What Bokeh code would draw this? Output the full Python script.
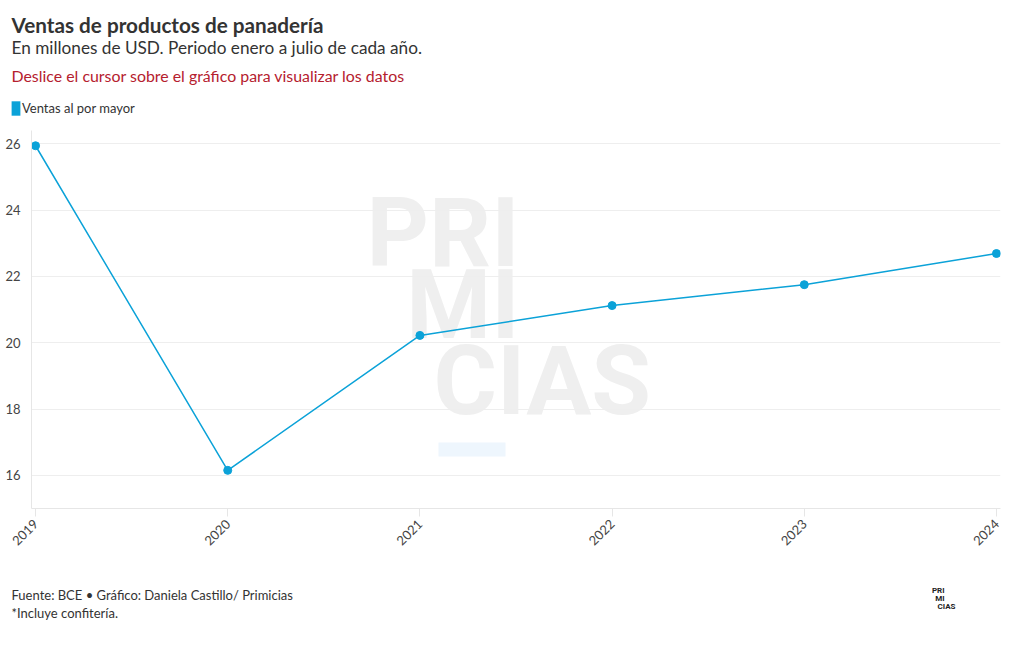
from bokeh.plotting import figure
from bokeh.models import Label, FixedTicker, Range1d, Legend, LegendItem, BoxAnnotation
from bokeh.layouts import column
from bokeh.embed import file_html
from bokeh.resources import INLINE

years = [2019, 2020, 2021, 2022, 2023, 2024]
ventas = [25.94, 16.15, 20.22, 21.12, 21.75, 22.69]
y_ticks = [16, 18, 20, 22, 24, 26]
series_name = "Ventas al por mayor"
title = "Ventas de productos de panadería"
subtitle = "En millones de USD. Periodo enero a julio de cada año."
note = "Deslice el cursor sobre el gráfico para visualizar los datos"
footer1 = "Fuente: BCE • Gráfico: Daniela Castillo/ Primicias"
footer2 = "*Incluye confitería."
logo = ["PRI", "MI", "CIAS"]

FONT = "Lato"
BLUE = "#0ba2d8"
W = 1020


def blank(height, top, bottom):
    f = figure(width=W, height=height, output_backend="svg", toolbar_location=None,
               x_range=Range1d(0, W), y_range=Range1d(bottom, top),
               x_axis_type=None, y_axis_type=None, min_border=0, frame_align=False)
    f.outline_line_color = None
    f.xgrid.grid_line_color = None
    f.ygrid.grid_line_color = None
    f.background_fill_color = "white"
    f.border_fill_color = "white"
    return f


def lab(fig, x, y, text, units="data", **kw):
    d = dict(x=x, y=y, x_units=units, y_units=units, text=text, text_font=FONT,
             text_baseline="middle")
    d.update(kw)
    fig.add_layout(Label(**d))


# ---- header ----
head = blank(120, 0, 120)
lab(head, 11, 24, title, text_font_size="20.7px", text_font_style="bold", text_color="#333333")
lab(head, 11, 47, subtitle, text_font_size="17.2px", text_color="#333333")
lab(head, 11, 75, note, text_font_size="15.9px", text_color="#b5202e")
swatch = head.rect(x=[0], y=[0], width=0, height=0, fill_color=BLUE, line_color=None,
                   border_radius=3)
legend = Legend(items=[LegendItem(label=series_name, renderers=[swatch])],
                location=(10, 3), orientation="horizontal", margin=0, padding=0,
                glyph_width=11, glyph_height=18, label_height=18, label_standoff=1,
                border_line_color=None, background_fill_alpha=0,
                label_text_font=FONT, label_text_font_size="13px", label_text_color="#333333")
head.add_layout(legend, "center")

# ---- main chart ----
p = figure(width=W, height=440, output_backend="svg", toolbar_location=None,
           x_range=Range1d(2018.979, 2024.021), y_range=Range1d(15, 26.4),
           min_border_left=31, min_border_right=20, min_border_top=10, min_border_bottom=52,
           frame_align=False)
p.outline_line_color = None
p.background_fill_color = "white"
p.border_fill_color = "white"

FL = 31  # frame left (page px)
wm = dict(text_font="Roboto", text_font_style="bold", text_font_size="97px", text_color="#efefef",
          text_baseline="alphabetic", level="image")
lab(p, 519 - FL, 508 - 232, "PRI", units="screen", text_align="right", **wm)
lab(p, 519 - FL, 508 - 304, "MI", units="screen", text_align="right", **wm)
lab(p, 433 - FL, 508 - 380, "CIAS", units="screen", text_align="left", **wm)
p.add_layout(BoxAnnotation(left=438 - FL, right=505 - FL, bottom=508 - 456, top=508 - 442,
                           left_units="screen", right_units="screen",
                           bottom_units="screen", top_units="screen",
                           fill_color="#eef6fd", fill_alpha=1, line_color=None, level="image"))

p.line(years, ventas, line_color=BLUE, line_width=1.5)
p.scatter(years, ventas, size=8, fill_color=BLUE, line_color=BLUE)

p.xaxis.ticker = FixedTicker(ticks=years)
p.yaxis.ticker = FixedTicker(ticks=y_ticks)
p.xaxis.major_label_orientation = 0.785
p.xaxis.axis_line_color = "#e6e6e6"
p.xaxis.major_tick_line_color = "#e6e6e6"
p.xaxis.major_tick_out = 8
p.xaxis.major_tick_in = 0
p.xaxis.minor_tick_line_color = None
p.xaxis.major_label_text_font = FONT
p.xaxis.major_label_text_font_size = "13px"
p.xaxis.major_label_text_color = "#444444"
p.yaxis.axis_line_color = "#e6e6e6"
p.yaxis.major_tick_line_color = None
p.yaxis.minor_tick_line_color = None
p.yaxis.major_label_text_font = FONT
p.yaxis.major_label_text_font_size = "13px"
p.yaxis.major_label_text_color = "#444444"
p.yaxis.major_label_standoff = 5
p.xgrid.grid_line_color = None
p.ygrid.grid_line_color = "#eeeeee"

# ---- footer ----
foot = blank(90, 560, 650)
lab(foot, 11, 594, footer1, text_font_size="13px", text_color="#333333")
lab(foot, 11, 612, footer2, text_font_size="13px", text_color="#333333")
lg = dict(text_font="Roboto", text_font_style="bold", text_font_size="8px", text_color="#222222")
lab(foot, 944, 590, logo[0], text_align="right", **lg)
lab(foot, 944, 598, logo[1], text_align="right", **lg)
lab(foot, 937, 606, logo[2], text_align="left", **lg)

layout = column(head, p, foot, spacing=0)
out = file_html(layout, INLINE)
open("out.html", "w").write(out)
